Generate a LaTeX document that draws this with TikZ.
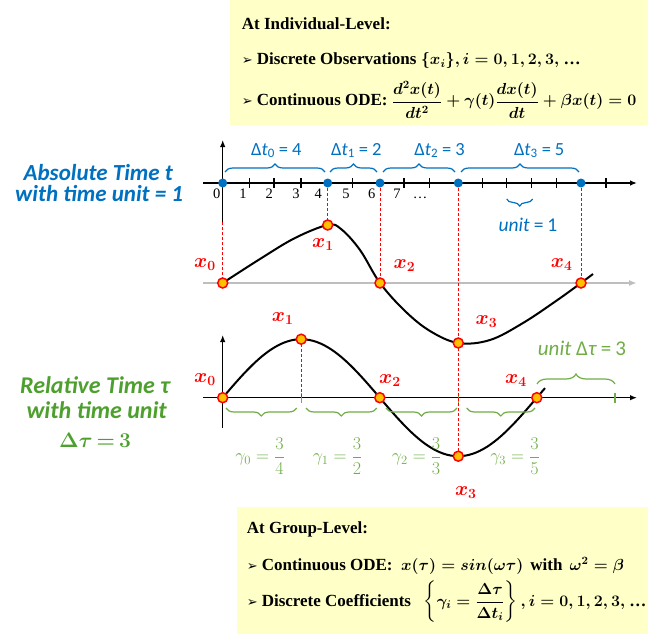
\RequirePackage{fix-cm}
\documentclass[tikz,border=0pt]{standalone}
\usepackage{amsmath}
\usepackage{fontspec}
\setmainfont{Liberation Serif}
\newfontfamily\calfont{Carlito}
\newfontfamily\djv{DejaVu Sans}
\usetikzlibrary{arrows.meta,decorations.pathreplacing}
\definecolor{boxyellow}{RGB}{255,255,200}
\definecolor{myblue}{RGB}{0,112,192}
\definecolor{mygreen}{RGB}{78,160,46}
\definecolor{lgreen}{RGB}{112,173,71}
\definecolor{dotorange}{RGB}{255,192,0}
\definecolor{axisgrey}{RGB}{190,190,190}
\newcommand{\bul}{{\djv\mdseries\fontsize{13}{13}\selectfont ➢}\hspace{4pt}}
\newcommand{\eqs}{\hspace{4pt}=\hspace{4pt}}
\newcommand{\mth}[1]{{\fontsize{16}{19}\selectfont$#1$}}
\begin{document}
\begin{tikzpicture}[x=1pt,y=-1pt,
 ybox/.style={fill=boxyellow, draw=none, inner sep=0, anchor=north west},
 boxtxt/.style={anchor=base west, inner sep=0, font=\fontsize{17}{19}\selectfont\bfseries\boldmath},
 axis/.style={line width=1.3pt, -{Latex[length=7pt,width=5.5pt]}},
 gaxis/.style={line width=1.6pt, draw=axisgrey, -{Latex[length=8pt,width=6pt]}},
 tickmark/.style={line width=1.3pt},
 gtick/.style={line width=1.3pt, lgreen},
 bdot/.style={circle, fill=myblue, inner sep=0, minimum size=9pt},
 obs/.style={circle, fill=dotorange, draw=red, line width=1.5pt, inner sep=0, minimum size=10pt},
 curve/.style={line width=2pt, black},
 rdash/.style={red, line width=0.8pt, dash pattern=on 3pt off 2pt},
 bbrace/.style={myblue, line width=1.2pt, decorate, decoration={brace, amplitude=8pt}},
 gbrace/.style={lgreen, line width=1.2pt, decorate, decoration={brace, amplitude=8pt}},
 ticklab/.style={anchor=base, inner sep=0, font=\fontsize{14.5}{16}\selectfont},
 blab/.style={anchor=base, inner sep=0, myblue, font=\calfont\fontsize{18.5}{20}\selectfont},
 glab/.style={anchor=base, inner sep=0, lgreen, font=\calfont\fontsize{21}{22}\selectfont},
 gam/.style={inner sep=0, lgreen, font=\fontsize{18}{20}\selectfont},
 xlab/.style={inner sep=0, red, font=\fontsize{20}{22}\selectfont\boldmath},
 lefttxt/.style={anchor=base, inner sep=0, font=\calfont\bfseries\itshape\fontsize{23}{19}\selectfont}
]
\useasboundingbox (0,0) rectangle (648,634);

% boxes
\node[ybox, minimum width=418pt, minimum height=125pt] (topbox) at (230,0) {};
\node[ybox, minimum width=411pt, minimum height=127pt] (botbox) at (237,507) {};

\node[boxtxt] (t1) at (241.7,30) {At Individual-Level:};
\node[boxtxt] (t2) at (241.7,65) {\bul Discrete Observations \mth{\{x_i\}, i=0, 1, 2, 3,}\ …};
\node[boxtxt] (t3) at (241.7,106) {\bul Continuous ODE: \mth{\dfrac{d^2x(t)}{dt^2}+\gamma(t)\dfrac{dx(t)}{dt}+\beta x(t)=0}};

\node[boxtxt] (g1) at (246.7,533.3) {At Group-Level:};
\node[boxtxt] (g2) at (246.7,570.7) {\bul Continuous ODE: \ \mth{x(\tau)=sin(\omega\tau)}\,\ with\, \mth{\omega^2=\beta}};
\node[boxtxt] (g3) at (246.7,606) {\bul Discrete Coefficients \ \ \mth{\left\{\gamma_i=\dfrac{\Delta\tau}{\Delta t_i}\right\}, i=0, 1, 2, 3,}\ …};

% left labels
\node[lefttxt, myblue] (abs1) at (98.3,180.5) {Absolute Time t};
\node[lefttxt, myblue] (abs2) at (99.2,201) {with time unit = 1};
\node[lefttxt, mygreen, font=\calfont\bfseries\itshape\fontsize{24}{20}\selectfont] (rel1) at (95,393.3) {Relative Time τ};
\node[lefttxt, mygreen, font=\calfont\bfseries\itshape\fontsize{24}{20}\selectfont] (rel2) at (96.7,418.3) {with time unit};
\node[anchor=base, inner sep=0, mygreen, font=\fontsize{21}{22}\selectfont\boldmath] (rel3) at (95,447.3) {$\Delta\tau\,{=}\,3$};

% coordinates
\coordinate (ta0) at (203,183);
\coordinate (ta1) at (637,183);
\coordinate (tv0) at (222.7,222);
\coordinate (tv1) at (222.7,140);
\coordinate (ga0) at (203,283);
\coordinate (ga1) at (637,283);
\coordinate (la0) at (203,397.7);
\coordinate (la1) at (637,397.7);
\coordinate (lv0) at (222.7,428);
\coordinate (lv1) at (222.7,335);
\coordinate (pu0) at (222.7,283);
\coordinate (pu1) at (327.7,225);
\coordinate (pu2) at (380,283);
\coordinate (pu3) at (458.3,343);
\coordinate (pu4) at (581,283);
\coordinate (pl0) at (222.7,397.7);
\coordinate (pl1) at (301.2,339.2);
\coordinate (pl2) at (379.8,397.7);
\coordinate (pl3) at (458.3,456.2);
\coordinate (pl4) at (536.8,397.7);
\coordinate (lt1) at (301.2,397.7);

% axes
\draw[gaxis] (ga0) -- (ga1);
\draw[axis] (ta0) -- (ta1);
\draw[axis] (tv0) -- (tv1);
\draw[axis] (la0) -- (la1);
\draw[axis] (lv0) -- (lv1);

% ticks upper
\foreach \x in {249.3,274,301,352.7,404,429.3,482.7,506.7,531.7,556.7,606}
  \draw[tickmark] (\x,178) -- (\x,188);
\foreach \x/\l in {216.7/0,243/1,269.3/2,296/3,318.3/4,346/5,371.7/6,397/7,420/\dots}
  \node[ticklab] at (\x,198) {\l};

% ticks lower
\foreach \x in {301.2,458.3,615}
  \draw[gtick] (\x,392.7) -- (\x,402.7);

% dashed
\draw[rdash] (tv0) -- (pu0);
\draw[rdash] (327.7,183) -- (pu1);
\draw[rdash] (380,183) -- (pu2);
\draw[rdash] (458.3,183) -- (pl3);
\draw[rdash] (581,183) -- (pu4);
\draw[rdash] (pl1) -- (lt1);

% curves
\draw[curve] plot[smooth, tension=0.6] coordinates {(pu0) (260,259) (295,238) (pu1) (341,229) (360,250) (pu2) (405,311) (430,331) (pu3) (490,340) (523,323) (556,301) (pu4) (593,274)};
\draw[curve] plot[domain=222.7:545, samples=90] (\x, {397.7-58.5*sin((\x-222.7)*1.14613)});

% braces upper
\draw[bbrace] (225,172) -- (325,172);
\draw[bbrace] (330,172) -- (377,172);
\draw[bbrace] (383,172) -- (455,172);
\draw[bbrace] (461,172) -- (579,172);
\draw[bbrace, decoration={brace, mirror, amplitude=7pt}] (506.7,199) -- (532.7,199);
\node[blab] (d0) at (276.3,155) {Δ\textit{t}\textsubscript{0}\eqs 4};
\node[blab] (d1) at (356.3,155) {Δ\textit{t}\textsubscript{1}\eqs 2};
\node[blab] (d2) at (439.5,155) {Δ\textit{t}\textsubscript{2}\eqs 3};
\node[blab] (d3) at (539.2,155) {Δ\textit{t}\textsubscript{3}\eqs 5};
\node[blab, font=\calfont\fontsize{19.5}{20}\selectfont] (u1l) at (528,231.7) {\textit{unit}\eqs 1};

% braces lower
\draw[gbrace, decoration={brace, mirror, amplitude=8pt}] (226,408) -- (296.7,408);
\draw[gbrace, decoration={brace, mirror, amplitude=8pt}] (306,408) -- (376.7,408);
\draw[gbrace, decoration={brace, mirror, amplitude=8pt}] (386,408) -- (457,408);
\draw[gbrace, decoration={brace, mirror, amplitude=8pt}] (466.7,408) -- (535,408);
\draw[gbrace, decoration={brace, amplitude=10pt}] (537,384) -- (615,384);
\node[glab] (ul2) at (582,355) {\textit{unit} Δ\textit{τ}\eqs 3};
\node[gam] (gm0) at (260,456) {$\gamma_0=\dfrac{3}{4}$};
\node[gam] (gm1) at (337.5,456) {$\gamma_1=\dfrac{3}{2}$};
\node[gam] (gm2) at (416.7,456) {$\gamma_2=\dfrac{3}{3}$};
\node[gam] (gm3) at (515,456) {$\gamma_3=\dfrac{3}{5}$};

% dots
\node[bdot] (b0) at (222.7,183) {};
\node[bdot] (b4) at (327.7,183) {};
\node[bdot] (b6) at (380,183) {};
\node[bdot] (b9) at (458.3,183) {};
\node[bdot] (b14) at (581,183) {};
\foreach \n in {pu0,pu1,pu2,pu3,pu4,pl0,pl1,pl2,pl3,pl4}
  \node[obs] (o\n) at (\n) {};

% red labels
\node[xlab] (xu0) at (205,265) {$x_0$};
\node[xlab] (xu1) at (323,245) {$x_1$};
\node[xlab] (xu2) at (404.5,266) {$x_2$};
\node[xlab] (xu3) at (486.5,322) {$x_3$};
\node[xlab] (xu4) at (561.7,265) {$x_4$};
\node[xlab] (xl0) at (205,380) {$x_0$};
\node[xlab] (xl1) at (282.7,319) {$x_1$};
\node[xlab] (xl2) at (390,381) {$x_2$};
\node[xlab] (xl3) at (465.8,493) {$x_3$};
\node[xlab] (xl4) at (516,381) {$x_4$};
\end{tikzpicture}
\end{document}
